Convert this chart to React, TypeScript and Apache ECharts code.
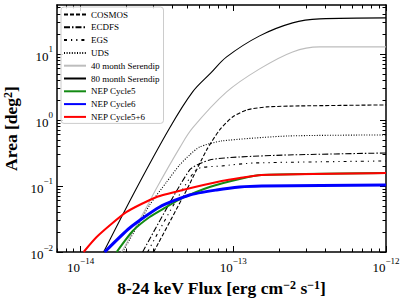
import React, { useEffect, useRef } from "react";
import * as echarts from "echarts";

// ---- data (flux in erg cm^-2 s^-1, area in deg^2) ----
const cosmosFlux = [3.007e-14, 4.945e-14, 6.686e-14, 8.135e-14, 9.89e-14, 1.222e-13, 1.652e-13, 2.718e-13, 1e-12];
const cosmosArea = [0.01, 0.087, 0.351, 0.706, 1.11, 1.418, 1.574, 1.63, 1.688];

const ecdfsFlux = [2.547e-14, 5.173e-14, 6.995e-14, 1.1e-13, 2.302e-13, 1e-12];
const ecdfsArea = [0.01, 0.1748, 0.248, 0.275, 0.295, 0.316];

const egsFlux = [2.746e-14, 5.663e-14, 8.384e-14, 1.379e-13, 1e-12];
const egsArea = [0.01, 0.1748, 0.201, 0.223, 0.239];

const udsFlux = [1.884e-14, 2.83e-14, 3.658e-14, 4.449e-14, 5.173e-14, 6.016e-14, 8.384e-14, 2.302e-13, 1e-12];
const udsArea = [0.01, 0.0515, 0.115, 0.208, 0.295, 0.39, 0.481, 0.572, 0.593];

const ser40Flux = [1.856e-14, 2.705e-14, 3.146e-14, 4.449e-14, 5.413e-14, 9.04e-14, 1.487e-13, 2.445e-13, 3.675e-13, 1e-12];
const ser40Area = [0.01, 0.0481, 0.0933, 0.377, 0.756, 2.656, 5.93, 10.72, 12.77, 12.77];

const ser80Flux = [1.414e-14, 2.327e-14, 3.827e-14, 5.413e-14, 7.1e-14, 9.04e-14, 1.487e-13, 2.445e-13, 3.675e-13, 1e-12];
const ser80Area = [0.01, 0.0933, 0.756, 2.656, 5.1, 9.01, 18.74, 29.5, 33.9, 35.1];

const nep5Flux = [1.721e-14, 2.191e-14, 2.83e-14, 3.549e-14, 4.656e-14, 6.995e-14, 1.1e-13, 1.532e-13, 1e-12];
const nep5Area = [0.01, 0.0208, 0.0339, 0.0464, 0.0658, 0.0966, 0.1277, 0.1468, 0.157];

const nep6Flux = [1.436e-14, 2.094e-14, 3.291e-14, 5.173e-14, 7.775e-14, 1.1e-13, 1.532e-13, 1e-12];
const nep6Area = [0.01, 0.0231, 0.0481, 0.0731, 0.087, 0.0966, 0.1, 0.1036];

const nep56Flux = [1.046e-14, 1.273e-14, 2.001e-14, 3.146e-14, 4.656e-14, 8.384e-14, 1.1e-13, 1.532e-13, 1e-12];
const nep56Area = [0.01, 0.01688, 0.0404, 0.0681, 0.087, 0.119, 0.1322, 0.1468, 0.157];

// ---- axis ticks ----
const xMajor = [1e-14, 1e-13, 1e-12];
const xMinor = [7e-15, 8e-15, 9e-15, 2e-14, 3e-14, 4e-14, 5e-14, 6e-14, 7e-14, 8e-14, 9e-14, 2e-13, 3e-13, 4e-13, 5e-13, 6e-13, 7e-13, 8e-13, 9e-13];
const yMajor = [1e-2, 1e-1, 1, 10];
const yMinor = [0.02, 0.03, 0.04, 0.05, 0.06, 0.07, 0.08, 0.09, 0.2, 0.3, 0.4, 0.5, 0.6, 0.7, 0.8, 0.9, 2, 3, 4, 5, 6, 7, 8, 9, 20, 30, 40, 50];
const xMin = 7e-15;
const xMax = 1e-12;
const yMin = 1e-2;
const yMax = 55;

const FONT = '"Liberation Serif", "Times New Roman", "DejaVu Serif", serif';

const pairs = (xs: number[], ys: number[]) => xs.map((x, i) => [x, ys[i]]);

const powLabel = (v: number) => {
  const e = Math.round(Math.log10(v));
  const s = e < 0 ? "\u2212" + String(-e) : String(e);
  return "{b|10}{s|" + s + "}";
};

const labelRich = {
  b: { fontFamily: FONT, fontSize: 13, color: "#000", lineHeight: 18, verticalAlign: "bottom" },
  s: { fontFamily: FONT, fontSize: 9, color: "#000", lineHeight: 8, verticalAlign: "top" },
};

const nameRich = {
  b: { fontFamily: FONT, fontSize: 17.5, fontWeight: "bold", color: "#000", lineHeight: 18, verticalAlign: "bottom" },
  s: { fontFamily: FONT, fontSize: 12, fontWeight: "bold", color: "#000", lineHeight: 10, verticalAlign: "top" },
};

function makeAxis(kind: "x" | "y", position: string, major: boolean, main: boolean) {
  const isX = kind === "x";
  const ax: any = {
    type: "log",
    logBase: 10,
    min: isX ? xMin : yMin,
    max: isX ? xMax : yMax,
    position,
    splitLine: { show: false },
    axisLine: { show: major, onZero: false, lineStyle: { color: "#000", width: 1.5 } },
    axisTick: {
      show: true,
      inside: true,
      length: major ? 6 : 3.5,
      lineStyle: { color: "#000", width: 1 },
      customValues: major ? (isX ? xMajor : yMajor) : isX ? xMinor : yMinor,
    },
    axisLabel: { show: false },
    axisPointer: { show: false },
  };
  if (main) {
    ax.axisLabel = {
      show: true,
      margin: 4,
      customValues: isX ? xMajor : yMajor,
      formatter: (v: number) => powLabel(v),
      rich: labelRich,
    };
    ax.nameLocation = "middle";
    if (isX) {
      ax.name = "{b|8-24 keV Flux [erg cm}{s|\u22122}{b| s}{s|\u22121}{b|]}";
      ax.nameGap = 17;
    } else {
      ax.name = "{b|Area [deg}{s|2}{b|]}";
      ax.nameGap = 29;
    }
    ax.nameTextStyle = { fontFamily: FONT, fontSize: 17.5, fontWeight: "bold", color: "#000", rich: nameRich };
  }
  return ax;
}

function line(name: string, xs: number[], ys: number[], color: string, width: number, type: any, smooth: number, z: number) {
  return {
    name,
    type: "line",
    data: pairs(xs, ys),
    symbol: "none",
    showSymbol: false,
    smooth,
    clip: true,
    z,
    xAxisIndex: 0,
    yAxisIndex: 0,
    lineStyle: { color, width, type },
    itemStyle: { color },
    emphasis: { disabled: true },
  };
}

export default function App() {
  const ref = useRef<HTMLDivElement>(null);
  useEffect(() => {
    if (!ref.current) return;
    const chart = echarts.init(ref.current, undefined, { renderer: "svg" });
    chart.setOption({
      animation: false,
      backgroundColor: "#fff",
      grid: { left: 57, right: 21, top: 5, bottom: 49, containLabel: false, outerBoundsMode: "none" },
      xAxis: [
        makeAxis("x", "bottom", true, true),
        makeAxis("x", "bottom", false, false),
        makeAxis("x", "top", true, false),
        makeAxis("x", "top", false, false),
      ],
      yAxis: [
        makeAxis("y", "left", true, true),
        makeAxis("y", "left", false, false),
        makeAxis("y", "right", true, false),
        makeAxis("y", "right", false, false),
      ],
      legend: {
        orient: "vertical",
        left: 61,
        top: 7,
        padding: [3, 4, 2, 2],
        itemWidth: 22,
        itemHeight: 9,
        itemGap: 3.8,
        backgroundColor: "rgba(255,255,255,0.8)",
        borderColor: "#cccccc",
        borderWidth: 1,
        borderRadius: 3,
        itemStyle: { opacity: 0 },
        textStyle: { fontFamily: FONT, fontSize: 9, color: "#000", lineHeight: 9 },
        data: [
          "COSMOS",
          "ECDFS",
          "EGS",
          "UDS",
          "40 month Serendip",
          "80 month Serendip",
          "NEP Cycle5",
          "NEP Cycle6",
          "NEP Cycle5+6",
        ],
        selectedMode: false,
      },
      series: [
        line("COSMOS", cosmosFlux, cosmosArea, "#000", 1.1, [4, 2], 0.2, 2),
        line("ECDFS", ecdfsFlux, ecdfsArea, "#000", 1.1, [6, 2, 1.5, 2], 0.2, 2),
        line("EGS", egsFlux, egsArea, "#000", 1.1, [3, 4, 1.2, 4, 1.2, 4], 0.2, 2),
        line("UDS", udsFlux, udsArea, "#000", 1.1, [1, 1.6], 0.2, 2),
        line("40 month Serendip", ser40Flux, ser40Area, "#bdbdbd", 1.1, "solid", 0.35, 2),
        line("80 month Serendip", ser80Flux, ser80Area, "#000", 1.1, "solid", 0.35, 2),
        line("NEP Cycle5", nep5Flux, nep5Area, "#138a13", 2, "solid", 0.2, 3),
        line("NEP Cycle6", nep6Flux, nep6Area, "#0000ff", 3, "solid", 0.2, 3),
        line("NEP Cycle5+6", nep56Flux, nep56Area, "#ff0000", 2, "solid", 0.2, 3),
      ],
    });
    return () => chart.dispose();
  }, []);
  return (
    <div
      ref={ref}
      style={{ position: "fixed", left: 0, top: 0, width: 407, height: 301, background: "#fff" }}
    />
  );
}
